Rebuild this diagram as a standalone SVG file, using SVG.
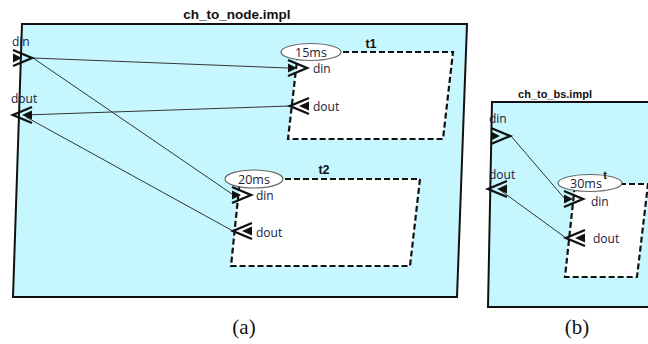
<svg xmlns="http://www.w3.org/2000/svg" xmlns:xlink="http://www.w3.org/1999/xlink" width="648" height="344" viewBox="0 0 648 344">
<style>
.cont{fill:#c6f7ff;stroke:#111;stroke-width:2}
.sub{fill:#fff;stroke:#111;stroke-width:2.2;stroke-dasharray:6,3}
.title{font-family:"Liberation Sans",Arial,sans-serif;font-weight:bold;font-size:11px;fill:#111}
.lbl{font-family:"Open Sans","DejaVu Sans",sans-serif;font-size:12px;fill:#1a1a3a}
.el{fill:#fff;stroke:#666;stroke-width:1.2}
.eltxt{font-family:"Open Sans","DejaVu Sans",sans-serif;font-size:12.5px;fill:#1a1a3a;text-anchor:middle}
.cap{font-family:"Liberation Serif","Times New Roman",serif;font-size:21px;fill:#111;text-anchor:middle}
.conn{stroke:#333;stroke-width:1;fill:none}
.chev{fill:none;stroke:#111;stroke-width:2.4}
.tri{fill:#111}
</style>
<defs>
<g id="pin"><polyline class="chev" points="-9,-8 10,0 -9,8"/><polygon class="tri" points="-9,-4.5 0,0 -9,4.5"/></g>
<g id="pout"><polyline class="chev" points="10,-8 -9,0 10,8"/><polygon class="tri" points="10,-4.5 0,0 10,4.5"/></g>
</defs>

<g id="ch_to_node">
<polygon class="cont" points="22,24 467,24 457,297 13,297"/>
<text class="title" x="237" y="19" text-anchor="middle" style="font-size:13.5px">ch_to_node.impl</text>
</g>
<g id="t1">
<polygon class="sub" points="298,52 453,52 443,139 288,139"/>
<ellipse class="el" cx="311" cy="52" rx="30" ry="8.5"/>
<text class="eltxt" x="311" y="56.5">15ms</text>
<text class="title" x="371" y="48" text-anchor="middle" style="font-size:12.5px">t1</text>
</g>
<g id="t2">
<polygon class="sub" points="240,179 420,179 410,266 231,266"/>
<ellipse class="el" cx="254" cy="179" rx="29" ry="9"/>
<text class="eltxt" x="254" y="183.5">20ms</text>
<text class="title" x="324" y="174" text-anchor="middle" style="font-size:12.5px">t2</text>
</g>
<g id="ch_to_bs">
<polygon class="cont" points="492,102 660,102 660,307 488,307"/>
<text class="title" x="555" y="98" text-anchor="middle">ch_to_bs.impl</text>
</g>
<g id="t">
<polygon class="sub" points="575,184 648,184 637,277 565,277"/>
<ellipse class="el" cx="590" cy="183" rx="32" ry="8.5"/>
<text class="eltxt" x="586" y="187.5">30ms</text>
<text class="title" x="605" y="179" text-anchor="middle">t</text>
</g>

<g id="connectors">
<line class="conn" x1="33" y1="58" x2="288" y2="68"/>
<line class="conn" x1="33" y1="58" x2="232" y2="194"/>
<line class="conn" x1="290" y1="106" x2="24" y2="115"/>
<line class="conn" x1="233" y1="231" x2="26" y2="117"/>
<line class="conn" x1="511" y1="136" x2="565" y2="199"/>
<line class="conn" x1="566" y1="238" x2="500" y2="190"/>
</g>

<g id="port_din_a"><use xlink:href="#pin" x="22" y="58"/><text class="lbl" x="12" y="46">din</text></g>
<g id="port_dout_a"><use xlink:href="#pout" x="22" y="115"/><text class="lbl" x="11" y="103">dout</text></g>
<g id="port_t1_din"><use xlink:href="#pin" x="297" y="68"/><text class="lbl" x="313" y="73">din</text></g>
<g id="port_t1_dout"><use xlink:href="#pout" x="299" y="106"/><text class="lbl" x="313" y="111">dout</text></g>
<g id="port_t2_din"><use xlink:href="#pin" x="241" y="195"/><text class="lbl" x="256" y="200">din</text></g>
<g id="port_t2_dout"><use xlink:href="#pout" x="242" y="231"/><text class="lbl" x="256" y="237">dout</text></g>
<g id="port_din_b"><use xlink:href="#pin" x="500" y="136"/><text class="lbl" x="489" y="123">din</text></g>
<g id="port_dout_b"><use xlink:href="#pout" x="497" y="189"/><text class="lbl" x="489" y="179">dout</text></g>
<g id="port_t_din"><use xlink:href="#pin" x="573" y="199"/><text class="lbl" x="591" y="206">din</text></g>
<g id="port_t_dout"><use xlink:href="#pout" x="575" y="238"/><text class="lbl" x="593" y="243">dout</text></g>

<text class="cap" x="244" y="334">(a)</text>
<text class="cap" x="577" y="334">(b)</text>
</svg>
